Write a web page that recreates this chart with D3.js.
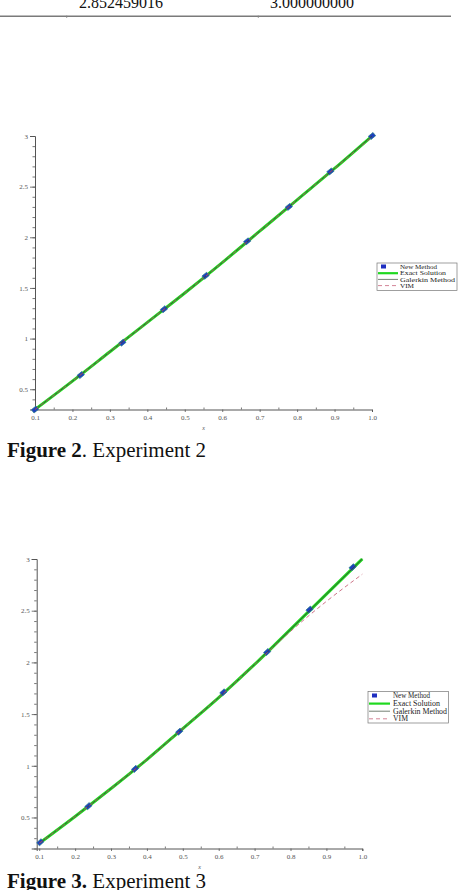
<!DOCTYPE html>
<html>
<head>
<meta charset="utf-8">
<script src="https://cdn.jsdelivr.net/npm/d3@7"></script>
<style>
  body { margin: 0; background: #fff; }
  svg { display: block; }
  .tick-label { font-family: "Liberation Serif", serif; font-size: 7px; fill: #555; }
  .legend-text { font-family: "Liberation Serif", serif; fill: #222; }
  .caption { font-family: "Liberation Serif", serif; font-size: 21px; fill: #111; }
</style>
</head>
<body>
<div id="page"></div>
<script>
// table row left over at the top of the page
var tableCells = ["2.852459016", "3.000000000"];

// Experiment 2
var fig2PointX = [0.1, 0.2222, 0.3333, 0.4444, 0.5556, 0.6667, 0.7778, 0.8889, 1.0];
var fig2NewMethod = [0.30, 0.64, 0.96, 1.29, 1.62, 1.96, 2.30, 2.65, 3.00];
var fig2CurveX = [0.1, 0.2, 0.3, 0.4, 0.5, 0.6, 0.7, 0.8, 0.9, 1.0];
var fig2Exact = [0.30, 0.58, 0.87, 1.16, 1.45, 1.75, 2.06, 2.37, 2.68, 3.00];
var fig2Galerkin = [0.30, 0.58, 0.87, 1.16, 1.45, 1.75, 2.06, 2.37, 2.68, 3.00];
var fig2VIM = [0.30, 0.58, 0.87, 1.16, 1.45, 1.75, 2.06, 2.37, 2.68, 2.99];

// Experiment 3
var fig3PointX = [0.103, 0.237, 0.367, 0.490, 0.613, 0.735, 0.853, 0.973];
var fig3NewMethod = [0.26, 0.61, 0.97, 1.33, 1.71, 2.10, 2.51, 2.92];
var fig3CurveX = [0.1, 0.2, 0.3, 0.4, 0.5, 0.6, 0.7, 0.8, 0.9, 1.0];
var fig3Exact = [0.25, 0.51, 0.78, 1.06, 1.36, 1.66, 1.98, 2.32, 2.66, 3.00];
var fig3Galerkin = [0.25, 0.51, 0.78, 1.06, 1.36, 1.66, 1.98, 2.32, 2.66, 3.00];
var fig3VIM = [0.25, 0.51, 0.78, 1.06, 1.36, 1.66, 1.98, 2.30, 2.59, 2.853];

var xTicks = [0.1, 0.2, 0.3, 0.4, 0.5, 0.6, 0.7, 0.8, 0.9, 1.0];
var yTicks = [0.5, 1, 1.5, 2, 2.5, 3];
var legendNames = ["New Method", "Exact Solution", "Galerkin Method", "VIM"];

var svg = d3.select("#page").append("svg")
    .attr("width", 468)
    .attr("height", 890);

// top table rule and numbers
svg.append("text").attr("x", 79).attr("y", 7.5)
    .style("font-family", "Liberation Serif").style("font-size", "16px").style("fill", "#111")
    .text(tableCells[0]);
svg.append("text").attr("x", 270).attr("y", 7.5)
    .style("font-family", "Liberation Serif").style("font-size", "16px").style("fill", "#111")
    .text(tableCells[1]);
svg.append("line").attr("x1", 0).attr("x2", 451).attr("y1", 16.3).attr("y2", 16.3)
    .attr("stroke", "#7a7a7a").attr("stroke-width", 1.6);
[66.7, 258.3].forEach(function(px){
  svg.append("line").attr("x1", px).attr("x2", px).attr("y1", 15.5).attr("y2", 18)
      .attr("stroke", "#888").attr("stroke-width", 0.8);
});

function plot(cfg){

  var x = d3.scaleLinear().domain(cfg.xDomain).range([cfg.left, cfg.right]);
  var y = d3.scaleLinear().domain(cfg.yDomain).range([cfg.bottom, cfg.top]);

  var g = svg.append("g");

  // y axis: major ticks every 0.5, minor every 0.1
  var yMinor = d3.range(Math.ceil(cfg.yDomain[0] * 10), 31).map(function(v){ return v / 10; });
  g.append("g")
      .attr("transform", "translate(" + cfg.left + ",0)")
      .call(d3.axisLeft(y).tickValues(yMinor).tickSize(2.5).tickFormat(""))
      .call(function(a){ a.select(".domain").remove(); a.selectAll("line").attr("stroke", "#555").attr("stroke-width", 0.8); });
  g.append("g")
      .attr("transform", "translate(" + cfg.left + ",0)")
      .call(d3.axisLeft(y).tickValues(yTicks).tickSize(5).tickPadding(2).tickFormat(d3.format("")))
      .call(function(a){
        a.select(".domain").attr("stroke", "#555").attr("stroke-width", 1);
        a.selectAll("line").attr("stroke", "#555").attr("stroke-width", 0.8);
        a.selectAll("text").attr("class", "tick-label").attr("font-size", null).attr("font-family", null);
      });

  // x axis: major every 0.1, minor every 0.05
  var xMinor = d3.range(3, 20, 2).map(function(v){ return v / 20; });
  g.append("g")
      .attr("transform", "translate(0," + cfg.bottom + ")")
      .call(d3.axisTop(x).tickValues(xMinor).tickSize(2).tickFormat(""))
      .call(function(a){ a.select(".domain").remove(); a.selectAll("line").attr("stroke", "#555").attr("stroke-width", 0.8); });
  g.append("g")
      .attr("transform", "translate(0," + cfg.bottom + ")")
      .call(d3.axisBottom(x).tickValues(xTicks).tickSize(2.5).tickPadding(3).tickFormat(d3.format(".1f")))
      .call(function(a){
        a.select(".domain").attr("stroke", "#555").attr("stroke-width", 1);
        a.selectAll("line").attr("stroke", "#555").attr("stroke-width", 0.8);
        a.selectAll("text").attr("class", "tick-label").attr("font-size", null).attr("font-family", null);
      });

  g.append("text")
      .attr("class", "tick-label")
      .attr("x", (cfg.left + cfg.right) / 2)
      .attr("y", cfg.bottom + 20)
      .attr("text-anchor", "middle")
      .style("font-style", "italic")
      .style("font-size", "6px")
      .text("x");

  var line = d3.line()
      .x(function(d){ return x(d[0]); })
      .y(function(d){ return y(d[1]); })
      .curve(d3.curveMonotoneX);

  var exact = d3.zip(cfg.curveX, cfg.exact);
  var galerkin = d3.zip(cfg.curveX, cfg.galerkin);
  var vim = d3.zip(cfg.curveX, cfg.vim);

  g.append("path").attr("d", line(exact))
      .attr("fill", "none").attr("stroke", "#1fd81f").attr("stroke-width", 3);

  // new method markers, slanted along the curve
  var pts = d3.zip(cfg.pointX, cfg.newMethod);
  g.selectAll(".dot")
      .data(pts)
      .enter()
      .append("rect")
      .attr("x", -3).attr("y", -2.1)
      .attr("width", 6).attr("height", 4.2)
      .attr("transform", function(d){
        return "translate(" + x(d[0]) + "," + y(d[1]) + ") rotate(" + cfg.angle + ")";
      })
      .attr("fill", "#1d3fbf")
      .attr("stroke", "#2f7f8f")
      .attr("stroke-width", 0.7);

  g.append("path").attr("d", line(galerkin))
      .attr("fill", "none").attr("stroke", "#3a4a3a").attr("stroke-width", 0.9);
  g.append("path").attr("d", line(vim))
      .attr("fill", "none").attr("stroke", "#c0506a").attr("stroke-width", 0.8)
      .attr("stroke-dasharray", "4,3");

  // legend
  var L = cfg.legend;
  var lg = svg.append("g");
  lg.append("rect")
      .attr("x", L.x).attr("y", L.y).attr("width", L.w).attr("height", L.h)
      .attr("fill", "#fff").attr("stroke", "#777").attr("stroke-width", 0.7);
  legendNames.forEach(function(name, i){
    var ry = L.y + L.pad + i * L.step;
    if (i === 0) {
      lg.append("rect").attr("x", L.sym0 + 3).attr("y", ry - 2.5).attr("width", 5).attr("height", 4)
          .attr("fill", "#1f2fc0");
    } else if (i === 1) {
      lg.append("line").attr("x1", L.sym0).attr("x2", L.sym1).attr("y1", ry).attr("y2", ry)
          .attr("stroke", "#1fd81f").attr("stroke-width", 2.2);
    } else if (i === 2) {
      lg.append("line").attr("x1", L.sym0).attr("x2", L.sym1).attr("y1", ry).attr("y2", ry)
          .attr("stroke", "#3a4a3a").attr("stroke-width", 0.7);
    } else {
      lg.append("line").attr("x1", L.sym0).attr("x2", L.sym1).attr("y1", ry).attr("y2", ry)
          .attr("stroke", "#c0506a").attr("stroke-width", 0.7).attr("stroke-dasharray", "4,3");
    }
    lg.append("text")
        .attr("class", "legend-text")
        .attr("x", L.textX).attr("y", ry + L.font * 0.33)
        .attr("textLength", L.widths[i])
        .attr("lengthAdjust", "spacingAndGlyphs")
        .style("font-size", L.font + "px")
        .text(name);
  });

  // caption
  var cap = svg.append("text").attr("class", "caption")
      .attr("x", 7).attr("y", cfg.captionY);
  cap.append("tspan").style("font-weight", "bold").text(cfg.captionBold);
  cap.append("tspan").text(cfg.captionRest);
}

plot({
  xDomain: [0.1, 1.0], yDomain: [0.3, 3],
  left: 35, right: 372, top: 136, bottom: 409.5,
  pointX: fig2PointX, newMethod: fig2NewMethod,
  curveX: fig2CurveX, exact: fig2Exact, galerkin: fig2Galerkin, vim: fig2VIM,
  angle: -39,
  legend: {x: 377, y: 263, w: 80, h: 27.5, pad: 4, step: 6.2, sym0: 378, sym1: 398, textX: 400, font: 6.5,
           widths: [37, 46, 55, 14]},
  captionY: 457, captionBold: "Figure 2", captionRest: ". Experiment 2"
});

plot({
  xDomain: [0.093, 1.0], yDomain: [0.2, 3],
  left: 36.7, right: 362.3, top: 559, bottom: 848.5,
  pointX: fig3PointX, newMethod: fig3NewMethod,
  curveX: fig3CurveX, exact: fig3Exact, galerkin: fig3Galerkin, vim: fig3VIM,
  angle: -42,
  legend: {x: 368, y: 691.5, w: 80.5, h: 31.5, pad: 4.5, step: 7.6, sym0: 369, sym1: 390, textX: 393, font: 7.5,
           widths: [37, 47, 54, 15]},
  captionY: 888, captionBold: "Figure 3.", captionRest: " Experiment 3"
});
</script>
</body>
</html>
